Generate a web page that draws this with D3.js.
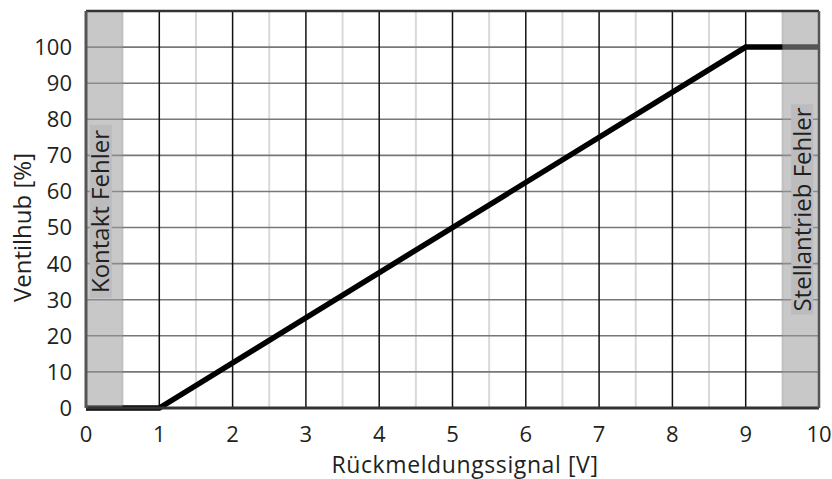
<!DOCTYPE html>
<html>
<head>
<meta charset="utf-8">
<script src="https://cdn.jsdelivr.net/npm/d3@7"></script>
<style>
  body { margin: 0; background: #fff; }
  text { font-family: "Open Sans", sans-serif; fill: #231f20; }
</style>
</head>
<body>
<div id="chart"></div>
<script>
// Kennlinie
const signalV = [0, 1, 9, 10];
const hubPct = [0, 0, 100, 100];

// Fehlerbereiche
const bandStart = [0, 9.5];
const bandEnd = [0.5, 10];
const bandLabels = ["Kontakt Fehler", "Stellantrieb Fehler"];

const xTicks = [0, 1, 2, 3, 4, 5, 6, 7, 8, 9, 10];
const xMinor = [0.5, 1.5, 2.5, 3.5, 4.5, 5.5, 6.5, 7.5, 8.5, 9.5];
const yTicks = [0, 10, 20, 30, 40, 50, 60, 70, 80, 90, 100];

const W = 832, H = 479;
const margin = { top: 11, right: 13, bottom: 71, left: 86 };
const w = W - margin.left - margin.right;
const h = H - margin.top - margin.bottom;

const svg = d3.select("#chart").append("svg").attr("width", W).attr("height", H);
const g = svg.append("g").attr("transform", `translate(${margin.left},${margin.top})`);

const x = d3.scaleLinear().domain([0, 10]).range([0, w]);
const y = d3.scaleLinear().domain([0, 110]).range([h, 0]);

// Gitter: Nebenlinien hellgrau
g.selectAll(".minor").data(xMinor).join("line")
    .attr("x1", d => x(d)).attr("x2", d => x(d))
    .attr("y1", 0).attr("y2", h)
    .attr("stroke", "#d9d9d9").attr("stroke-width", 2);

// horizontale Linien
g.selectAll(".hgrid").data(yTicks).join("line")
    .attr("x1", 0).attr("x2", w)
    .attr("y1", d => y(d)).attr("y2", d => y(d))
    .attr("stroke", "#777").attr("stroke-width", 1.6);

// Hauptlinien schwarz
g.selectAll(".major").data(xTicks.slice(1, -1)).join("line")
    .attr("x1", d => x(d)).attr("x2", d => x(d))
    .attr("y1", 0).attr("y2", h)
    .attr("stroke", "#111").attr("stroke-width", 1.5);

// Kennlinie
const line = d3.line().x((d, i) => x(signalV[i])).y(d => y(d));
g.append("path").datum(hubPct)
    .attr("d", line)
    .attr("fill", "none")
    .attr("stroke", "#000")
    .attr("stroke-width", 5.5);

// Fehlerbereiche (halbtransparent darüber)
g.selectAll(".band").data(bandStart).join("rect")
    .attr("x", d => x(d))
    .attr("width", (d, i) => x(bandEnd[i]) - x(d))
    .attr("y", 0).attr("height", h)
    .attr("fill", "#9a9a9a").attr("opacity", 0.55);

// Rahmen
g.append("line").attr("x1", 0).attr("x2", w).attr("y1", 0).attr("y2", 0)
    .attr("stroke", "#333").attr("stroke-width", 2.5);
g.append("line").attr("x1", 0).attr("x2", w).attr("y1", h).attr("y2", h)
    .attr("stroke", "#333").attr("stroke-width", 3);
g.append("line").attr("x1", 0).attr("x2", 0).attr("y1", 0).attr("y2", h)
    .attr("stroke", "#555").attr("stroke-width", 3);
g.append("line").attr("x1", w).attr("x2", w).attr("y1", 0).attr("y2", h)
    .attr("stroke", "#555").attr("stroke-width", 2.5);

// Beschriftung der Fehlerbereiche
const labelShiftX = [-3.5, 1.5];
const labelCenterY = [211.5 - margin.top, 209.5 - margin.top];
const labelPad = [5, 3];
bandLabels.forEach((lab, i) => {
    const cx = (x(bandStart[i]) + x(bandEnd[i])) / 2 + labelShiftX[i];
    const lg = g.append("g").attr("transform", `translate(${cx},${labelCenterY[i]}) rotate(-90)`);
    const t = lg.append("text")
        .attr("text-anchor", "middle")
        .attr("dy", "0.36em")
        .style("font-size", "24px")
        .text(lab);
    const bb = t.node().getBBox();
    lg.insert("rect", "text")
        .attr("x", bb.x - labelPad[i]).attr("y", -11)
        .attr("width", bb.width + 2 * labelPad[i]).attr("height", 22)
        .attr("fill", "#bcbcbe");
});

// Achsenbeschriftungen
g.selectAll(".xt").data(xTicks).join("text")
    .attr("x", d => x(d)).attr("y", h + 34)
    .attr("text-anchor", "middle")
    .style("font-size", "22px")
    .text(d => d);

g.selectAll(".yt").data(yTicks).join("text")
    .attr("x", -14).attr("y", d => y(d))
    .attr("dy", "0.36em")
    .attr("text-anchor", "end")
    .style("font-size", "22px")
    .text(d => d);

svg.append("text")
    .attr("x", 465).attr("y", 473)
    .attr("text-anchor", "middle")
    .style("font-size", "23px")
    .style("letter-spacing", "0.6px")
    .text("Rückmeldungssignal [V]");

svg.append("text")
    .attr("transform", `translate(31,${margin.top + y(50)}) rotate(-90)`)
    .attr("text-anchor", "middle")
    .style("font-size", "24px")
    .text("Ventilhub [%]");
</script>
</body>
</html>
